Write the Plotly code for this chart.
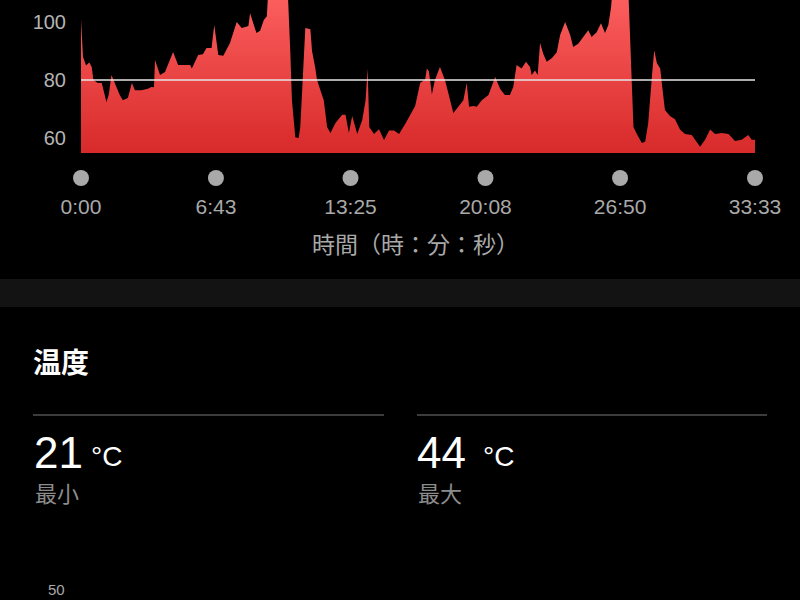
import plotly.graph_objects as go

# ---- data ----
elapsed_s = [
    0, 6, 15, 25, 32, 37, 50, 62, 76, 83, 91, 100, 115, 125, 140, 152, 161, 180, 200, 210,
    218, 221, 236, 251, 275, 290, 326, 331, 350, 364, 375, 390, 398, 410, 425, 445, 465, 480, 500,
    505, 515, 524, 535, 546, 555, 560, 590, 617, 625, 630, 640, 650, 655, 665, 670, 685, 690,
    700, 705, 715, 725, 735, 745, 760, 780, 790, 800, 810, 825, 840, 850, 856, 861, 875, 890,
    905, 920, 935, 950, 970, 990,
    998, 1013, 1028, 1033, 1039, 1048, 1057, 1072, 1087, 1097, 1112, 1127, 1142, 1152, 1159,
    1172, 1182, 1197, 1217, 1237, 1252, 1266, 1281, 1291, 1301, 1316, 1329, 1341, 1346, 1356,
    1364, 1371, 1381, 1391, 1406, 1421, 1431, 1446, 1461, 1470, 1485, 1500,
    1515, 1525, 1540, 1553, 1565, 1575, 1583, 1589, 1610, 1634, 1640, 1650, 1660, 1675, 1685,
    1694, 1705, 1712, 1720, 1730, 1736, 1744, 1759, 1774, 1789, 1804, 1824, 1839, 1849, 1864,
    1879, 1894, 1914, 1934, 1953, 1973, 1993, 2003, 2013,
]
heart_rate = [
    101, 88, 85, 86, 84.5, 80, 79, 79, 72.4, 75, 81.7, 79, 75, 73, 73.8, 79, 76.5, 76.5, 77, 77.6,
    77.5, 86.9, 81.7, 82.8, 89.7, 85.2, 85.2, 84, 88.6, 88.9, 91, 91, 99, 88.6, 88.4, 92.8, 100, 97.9, 98.6,
    103, 99, 96.2, 97, 100.7, 102, 112, 116, 112, 90, 73, 60.3, 60, 63.8, 90, 97.9, 97.5, 90,
    84, 80, 76.5, 73, 63.8, 61.7, 65.2, 68, 68, 61.7, 67.6, 61.4, 66.2, 73, 84, 63.8, 61.4, 63,
    59.3, 62.6, 62.6, 61.4, 65.2, 69.7,
    71, 79, 80.3, 84, 83, 75, 80, 84.5, 80, 75.5, 68.6, 70.8, 73, 79, 70.8,
    71, 70.8, 73, 74.8, 81, 76.9, 74.8, 74.8, 77.6, 85.2, 84, 86.3, 84.5, 81.7, 83.3,
    81.7, 92.8, 88.9, 86.3, 87.5, 89.6, 95.5, 100, 95.5, 91.4, 92.5, 94.8,
    97.2, 94.8, 96.5, 99.6, 96.2, 99, 105, 113, 116, 113, 95, 63.8, 61.4, 58.3, 58.7,
    65, 81, 90.3, 85.8, 84, 77.6, 69.7, 67.6, 66.5, 62.9, 61.4, 61, 58.7, 57, 59.4,
    62.9, 61.4, 61.7, 61.4, 59, 59.4, 61, 59.4, 59.4,
]
average_hr = 80
y_tick_vals = [60, 80, 100]
x_tick_vals = [0, 403, 805, 1208, 1610, 2013]
x_tick_text = ["0:00", "6:43", "13:25", "20:08", "26:50", "33:33"]
x_title = "時間（時：分：秒）"
section_title = "温度"
temp_min, temp_max = 21, 44
temp_unit = "°C"
min_label, max_label = "最小", "最大"
next_chart_tick = "50"

W, H = 800, 600
Y_LO, Y_HI = 54.83, 107.59

def py(p):  # pixel row -> paper y
    return 1 - p / H

def px(p):  # pixel col -> paper x
    return p / W

CJK = "Noto Sans CJK JP"
LAT = "Liberation Sans, Arial, sans-serif"
GRAY = "#a9a9a9"

fig = go.Figure()
fig.add_trace(go.Scatter(
    x=elapsed_s, y=heart_rate, mode="lines", fill="tozeroy",
    line=dict(width=0, color="#e84040"),
    fillgradient=dict(type="vertical", start=Y_LO, stop=Y_HI,
                      colorscale=[[0, "#d82a2a"], [1, "#fb5d5d"]]),
    hoverinfo="skip", showlegend=False,
))
fig.add_trace(go.Scatter(
    x=x_tick_vals, y=[0.5] * len(x_tick_vals), yaxis="y2", mode="markers",
    marker=dict(size=16, color=GRAY), cliponaxis=False,
    hoverinfo="skip", showlegend=False,
))

fig.update_layout(
    template="none",
    width=W, height=H, margin=dict(l=0, r=0, t=0, b=0, pad=0, autoexpand=False),
    paper_bgcolor="black", plot_bgcolor="black",
    xaxis=dict(domain=[px(81), px(755)], range=[0, 2013], anchor="free", position=py(192),
               automargin=False,
               tickvals=x_tick_vals, ticktext=x_tick_text, showgrid=False, zeroline=False,
               showline=False, ticks="", tickfont=dict(size=21, color=GRAY, family=LAT)),
    yaxis=dict(domain=[py(153), 1], range=[Y_LO, Y_HI], tickvals=y_tick_vals, automargin=False,
               showgrid=False, zeroline=False, showline=False, ticks="",
               ticklabelstandoff=14, tickfont=dict(size=20, color="#b4b4b4", family=LAT)),
    yaxis2=dict(domain=[py(186), py(170)], range=[0, 1], anchor="x", visible=False,
                automargin=False),
    showlegend=False,
)

# average line
fig.add_shape(type="line", xref="x domain", yref="y", x0=0, x1=1, y0=average_hr, y1=average_hr,
              line=dict(color="#e6e6e6", width=1.5), layer="above")
# section band
fig.add_shape(type="rect", xref="paper", yref="paper", x0=0, x1=1, y0=py(307), y1=py(279),
              fillcolor="#131313", line=dict(width=0), layer="below")
# divider lines
for a, b in [(33, 384), (417, 767)]:
    fig.add_shape(type="line", xref="paper", yref="paper", x0=px(a), x1=px(b),
                  y0=py(415), y1=py(415), line=dict(color="#3c3c3c", width=2))

def ann(text, x, y, size, color, family, xanchor="left"):
    fig.add_annotation(text=text, x=px(x), y=py(y), xref="paper", yref="paper",
                       xanchor=xanchor, yanchor="middle", showarrow=False,
                       font=dict(size=size, color=color, family=family))

ann(x_title, 415, 243, 23, GRAY, CJK, xanchor="center")
ann("<b>" + section_title + "</b>", 31, 361, 28, "white", CJK)
ann(str(temp_min), 32, 452, 44, "white", LAT)
ann(temp_unit, 89, 456, 28, "white", LAT)
ann(min_label, 33, 492, 22, "#8c8c8c", CJK)
ann(str(temp_max), 415, 452, 44, "white", LAT)
ann(temp_unit, 481, 456, 28, "white", LAT)
ann(max_label, 416, 492, 22, "#8c8c8c", CJK)
ann(next_chart_tick, 56, 589, 15, GRAY, LAT, xanchor="center")

fig.write_html("out.html", config={"displayModeBar": False},
               post_script="document.body.style.margin='0';document.body.style.background='black';")
